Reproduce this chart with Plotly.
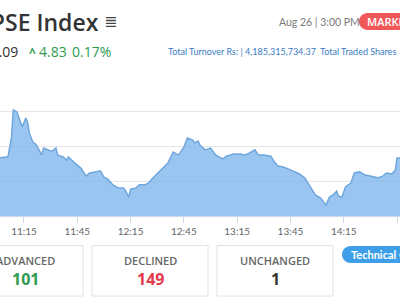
import plotly.graph_objects as go

# ---------------- data ----------------
times = ["11:01", "11:06", "11:08", "11:09", "11:11", "11:13", "11:14", "11:16", "11:17", "11:18",
         "11:20", "11:22", "11:25", "11:26", "11:28", "11:30", "11:31", "11:33", "11:34", "11:37",
         "11:39", "11:40", "11:43", "11:47", "11:50", "11:52", "11:55", "11:58", "12:00", "12:02",
         "12:05", "12:08", "12:11", "12:12", "12:14", "12:15", "12:18", "12:20", "12:23", "12:25",
         "12:28", "12:32", "12:36", "12:39", "12:42", "12:45", "12:47", "12:50", "12:51", "12:53",
         "12:54", "12:57", "13:00", "13:03", "13:07", "13:09", "13:13", "13:17", "13:19", "13:22",
         "13:25", "13:27", "13:30", "13:34", "13:36", "13:38", "13:41", "13:44", "13:47", "13:50",
         "13:53", "13:56", "13:59", "14:02", "14:05", "14:07", "14:09", "14:11", "14:12", "14:14",
         "14:16", "14:19", "14:21", "14:24", "14:27", "14:30", "14:33", "14:34", "14:37", "14:39",
         "14:42", "14:44", "14:45", "14:47", "14:50"]
values = [2786.6, 2786.9, 2792.6, 2800.3, 2799.7, 2796.6, 2795.4, 2798.0, 2796.9, 2793.7,
          2791.1, 2790.3, 2787.4, 2789.4, 2788.9, 2788.6, 2788.6, 2789.4, 2787.4, 2786.9,
          2786.0, 2786.9, 2785.4, 2783.7, 2781.4, 2782.3, 2782.6, 2782.9, 2781.1, 2780.6,
          2778.9, 2778.0, 2778.0, 2777.4, 2775.4, 2777.7, 2778.0, 2778.9, 2778.9, 2779.4,
          2781.1, 2783.1, 2785.1, 2788.3, 2787.4, 2789.7, 2792.3, 2791.7, 2790.9, 2791.4,
          2790.3, 2788.9, 2789.4, 2787.4, 2786.3, 2787.1, 2787.7, 2787.7, 2787.4, 2788.0,
          2788.9, 2787.4, 2787.4, 2787.1, 2785.4, 2784.3, 2784.0, 2783.4, 2782.6, 2782.0,
          2780.9, 2778.3, 2776.0, 2775.1, 2773.1, 2775.4, 2776.0, 2777.1, 2775.7, 2775.4,
          2778.3, 2779.4, 2782.3, 2782.6, 2781.7, 2781.4, 2781.1, 2780.9, 2781.4, 2782.3,
          2782.0, 2783.1, 2786.6, 2786.6, 2787.0]
tick_labels = ["11:15", "11:45", "12:15", "12:45", "13:15", "13:45", "14:15", "14:45"]
y_range = [2770, 2810]
x_window = ["11:01:30", "14:46:40"]
DAY = "2024-08-26 "

index_value = "2,786.09"
change = "4.83"
change_pct = "0.17%"
stamp = "Aug 26 | 3:00 PM"
market_state = "MARKET"
turnover = "Total Turnover Rs: | 4,185,315,734.37"
traded = "Total Traded Shares"
box_titles = ["ADVANCED", "DECLINED", "UNCHANGED"]
box_counts = ["101", "149", "1"]
button_text = "Technical C"

# ---------------- layout helpers ----------------
W, H = 400, 300
T, B = 76, 84
PH = H - T - B


def px(x):
    return x / W


def py(y):
    return (H - B - y) / PH


def pill(x0, x1, y0, y1, r):
    # rounded rectangle path in paper coords (built from pixel coords)
    k = 0.5523 * r
    pts = [
        f"M{px(x0 + r)},{py(y0)}",
        f"L{px(x1 - r)},{py(y0)}",
        f"C{px(x1 - r + k)},{py(y0)} {px(x1)},{py(y0 + r - k)} {px(x1)},{py(y0 + r)}",
        f"L{px(x1)},{py(y1 - r)}",
        f"C{px(x1)},{py(y1 - r + k)} {px(x1 - r + k)},{py(y1)} {px(x1 - r)},{py(y1)}",
        f"L{px(x0 + r)},{py(y1)}",
        f"C{px(x0 + r - k)},{py(y1)} {px(x0)},{py(y1 - r + k)} {px(x0)},{py(y1 - r)}",
        f"L{px(x0)},{py(y0 + r)}",
        f"C{px(x0)},{py(y0 + r - k)} {px(x0 + r - k)},{py(y0)} {px(x0 + r)},{py(y0)}",
        "Z",
    ]
    return " ".join(pts)


fig = go.Figure()
fig.add_trace(go.Scatter(
    x=[DAY + t for t in times], y=values,
    mode="lines", fill="tozeroy",
    line=dict(color="#6fa7dd", width=1.5),
    fillcolor="rgba(124,181,236,0.78)",
    hoverinfo="skip", showlegend=False,
))

FONT = "Open Sans"
annotations = []


def ann(text, x, y, size, color, xanchor="left", weight=None, family=FONT):
    f = dict(family=family, size=size, color=color)
    if weight:
        f["weight"] = weight
    annotations.append(dict(text=text, x=px(x), y=py(y), xref="paper", yref="paper",
                            xanchor=xanchor, yanchor="middle", showarrow=False,
                            font=f, borderpad=0))


# header
ann("NEPSE Index", 100, 22, 23, "#333333", "right", weight=600)
ann("≣", 110, 21, 16, "#444444", "center", family="DejaVu Sans")
ann(index_value, 19, 52, 14, "#333333", "right")
ann("^", 32, 53, 12, "#2e9b4f", "center", weight=700)
ann(change, 38, 52, 14, "#2e9b4f")
ann(change_pct, 71, 52, 14, "#2e9b4f")
ann(stamp, 278, 22, 10.5, "#7a7a7a", family="Lato")
ann(market_state, 366, 21.5, 11, "#ffffff", weight=600)
ann(turnover, 167, 52, 9, "#3a7bbf", family="Lato")
ann(traded, 319, 52, 9, "#3a7bbf", family="Lato")

shapes = [
    dict(type="path", path=pill(359, 460, 13, 30, 8.5), xref="paper", yref="paper",
         fillcolor="#f05757", line=dict(width=0), layer="below"),
    dict(type="path", path=pill(342, 470, 246, 263, 8.5), xref="paper", yref="paper",
         fillcolor="#3e9fe9", line=dict(width=0), layer="below"),
]
ann(button_text, 350, 254.5, 11, "#ffffff", weight=700, family="Lato")

count_colors = ["#2e9b4f", "#e2394b", "#333333"]
box_left = [-33, 92, 217]
for i in range(3):
    x0 = box_left[i]
    x1 = x0 + 116
    shapes.append(dict(type="rect", xref="paper", yref="paper",
                       x0=px(x0), x1=px(x1), y0=py(296), y1=py(245.5),
                       line=dict(color="#e2e2e2", width=1), fillcolor="#ffffff", layer="below"))
    cx = (x0 + x1) / 2
    ann(box_titles[i], cx, 260, 11, "#666666", "center", weight=600)
    ann(box_counts[i], cx, 279, 16, count_colors[i], "center", weight=700)

fig.update_layout(
    width=W, height=H,
    margin=dict(l=0, r=0, t=T, b=B),
    paper_bgcolor="#ffffff", plot_bgcolor="#ffffff",
    shapes=shapes, annotations=annotations,
    xaxis=dict(
        type="date", range=[DAY + x_window[0], DAY + x_window[1]],
        tickvals=[DAY + t for t in tick_labels], ticktext=tick_labels,
        showgrid=False, showline=True, linecolor="#ccd6eb", linewidth=1,
        ticks="outside", ticklen=6, tickcolor="#ccd6eb",
        tickfont=dict(family="Lato", size=10, color="#666666"),
        zeroline=False, fixedrange=True,
    ),
    yaxis=dict(
        range=y_range, dtick=10, showticklabels=False,
        showgrid=True, gridcolor="#e6e6e6", gridwidth=1,
        zeroline=False, showline=False, fixedrange=True,
    ),
)

fig.write_html("out.html", config=dict(displayModeBar=False))
